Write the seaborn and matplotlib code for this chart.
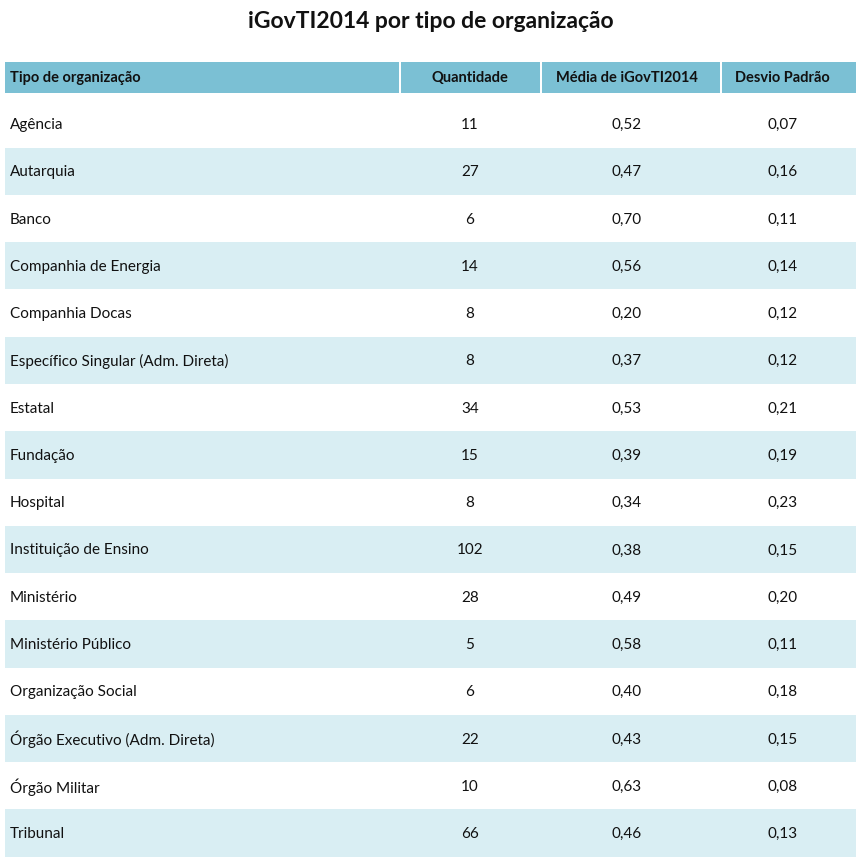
import matplotlib
matplotlib.use("Agg")
import matplotlib.pyplot as plt
import seaborn as sns

# dados da tabela
tipos = ["Agência", "Autarquia", "Banco", "Companhia de Energia", "Companhia Docas",
         "Específico Singular (Adm. Direta)", "Estatal", "Fundação", "Hospital",
         "Instituição de Ensino", "Ministério", "Ministério Público", "Organização Social",
         "Órgão Executivo (Adm. Direta)", "Órgão Militar", "Tribunal"]
quantidade = [11, 27, 6, 14, 8, 8, 34, 15, 8, 102, 28, 5, 6, 22, 10, 66]
media = [0.52, 0.47, 0.70, 0.56, 0.20, 0.37, 0.53, 0.39, 0.34, 0.38, 0.49, 0.58, 0.40, 0.43, 0.63, 0.46]
desvio = [0.07, 0.16, 0.11, 0.14, 0.12, 0.12, 0.21, 0.19, 0.23, 0.15, 0.20, 0.11, 0.18, 0.15, 0.08, 0.13]
colunas = ["Tipo de organização", "Quantidade", "Média de iGovTI2014", "Desvio Padrão"]

sns.set_theme(style="white")
plt.rcParams['font.family'] = ['Lato', 'DejaVu Sans']

fig = plt.figure(figsize=(8.66, 8.66), dpi=100)
ax = fig.add_axes([0, 0, 1, 1])
ax.set_xlim(0, 866)
ax.set_ylim(866, 0)
ax.axis("off")

header_cor = "#7bc0d4"
listra_cor = "#d9eef3"

# cabeçalho
bordas = [(5, 399), (401, 540), (542, 720), (722, 856)]
centros = [10, 470, 627, 782]
for i, (x0, x1) in enumerate(bordas):
    ax.add_patch(plt.Rectangle((x0, 62), x1 - x0, 31, color=header_cor, lw=0))
    ha = "left" if i == 0 else "center"
    ax.text(centros[i], 78, colunas[i], ha=ha, va="center", fontsize=10.5,
            fontweight="bold", color="#111111")

ax.text(431, 21, "iGovTI2014 por tipo de organização", ha="center", va="center",
        fontsize=16.5, fontweight="bold", color="#111111")

# linhas
passo = 47.27
for i, tipo in enumerate(tipos):
    y = 123 + passo * i
    if i % 2 == 1:
        ax.add_patch(plt.Rectangle((5, y - passo / 2 + 1), 851, passo, color=listra_cor, lw=0))
    ty = y + 2
    ax.text(10, ty, tipo, ha="left", va="center", fontsize=11, color="#111111")
    ax.text(470, ty, str(quantidade[i]), ha="center", va="center", fontsize=11, color="#111111")
    ax.text(627, ty, f"{media[i]:.2f}".replace(".", ","), ha="center", va="center",
            fontsize=11, color="#111111")
    ax.text(783, ty, f"{desvio[i]:.2f}".replace(".", ","), ha="center", va="center",
            fontsize=11, color="#111111")

fig.savefig("out.png", dpi=100)
